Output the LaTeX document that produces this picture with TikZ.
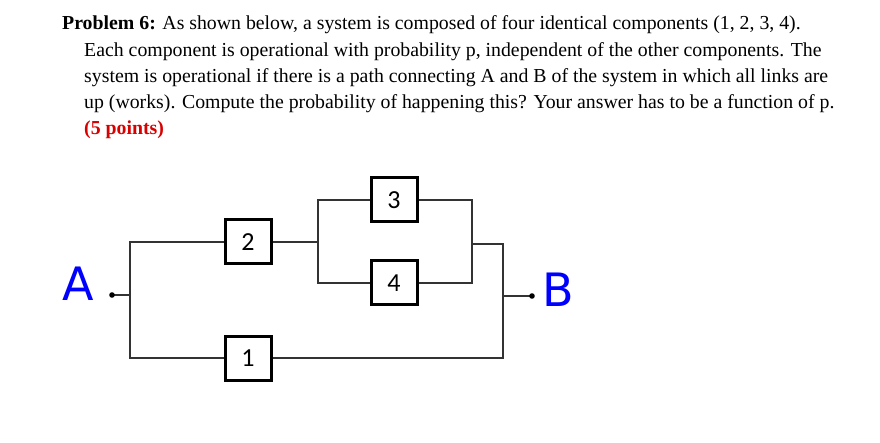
\documentclass[tikz,border=0pt]{standalone}
\usepackage{fontspec}
\setmainfont{Liberation Serif}
\newfontfamily\boxfont{Carlito}
\newfontfamily\handfont{DejaVu Sans}
\begin{document}
\begin{tikzpicture}[x=1pt,y=-1pt,
  comp/.style={draw,line width=3pt,minimum width=46pt,minimum height=44pt,inner sep=0pt,font=\boxfont\fontsize{26}{26}\selectfont},
  wire/.style={line width=1.6pt,draw=black!80},
  txt/.style={anchor=west,inner sep=0pt,font=\fontsize{19.8}{22}\selectfont},
  hand/.style={font=\handfont\fontsize{46}{46}\selectfont,text=blue,inner sep=0pt}]
\useasboundingbox (0,0) rectangle (880,443);
\node[txt] (l1) at (62,25) {\textbf{Problem 6:} As shown below, a system is composed of four identical components (1, 2, 3, 4).};
\node[txt] (l2) at (84,52) {Each component is operational with probability p, independent of the other components. The};
\node[txt] (l3) at (84,78) {system is operational if there is a path connecting A and B of the system in which all links are};
\node[txt] (l4) at (84,104) {up (works). Compute the probability of happening this? Your answer has to be a function of p.};
\node[txt,text=red!85!black] (l5) at (84,130) {\textbf{(5 points)}};
\node[comp] (c2) at (248,242) {2};
\node[comp] (c3) at (394,200) {3};
\node[comp] (c4) at (394,283) {4};
\node[comp] (c1) at (248,358) {1};
\coordinate (a) at (112,295);
\coordinate (b) at (532,296);
\coordinate (lt) at (130,242);
\coordinate (lb) at (130,358);
\coordinate (rt) at (503,244);
\coordinate (rb) at (503,358);
\coordinate (it) at (318,200);
\coordinate (ib) at (318,283);
\coordinate (ot) at (472,200);
\coordinate (ob) at (472,283);
\draw[wire] (a) -- (130,295);
\draw[wire] (c2.west) -- (lt) -- (lb) -- (c1.west);
\draw[wire] (c1.east) -- (rb) -- (rt) -- (472,244);
\draw[wire] (503,296) -- (b);
\draw[wire] (c2.east) -- (318,242);
\draw[wire] (c3.west) -- (it) -- (ib) -- (c4.west);
\draw[wire] (c3.east) -- (ot) -- (ob) -- (c4.east);
\fill (a) circle (2.8pt);
\fill (b) circle (2.8pt);
\node[hand] (la) at (78,284) {A};
\node[hand] (lbb) at (558,290) {B};
\end{tikzpicture}
\end{document}
